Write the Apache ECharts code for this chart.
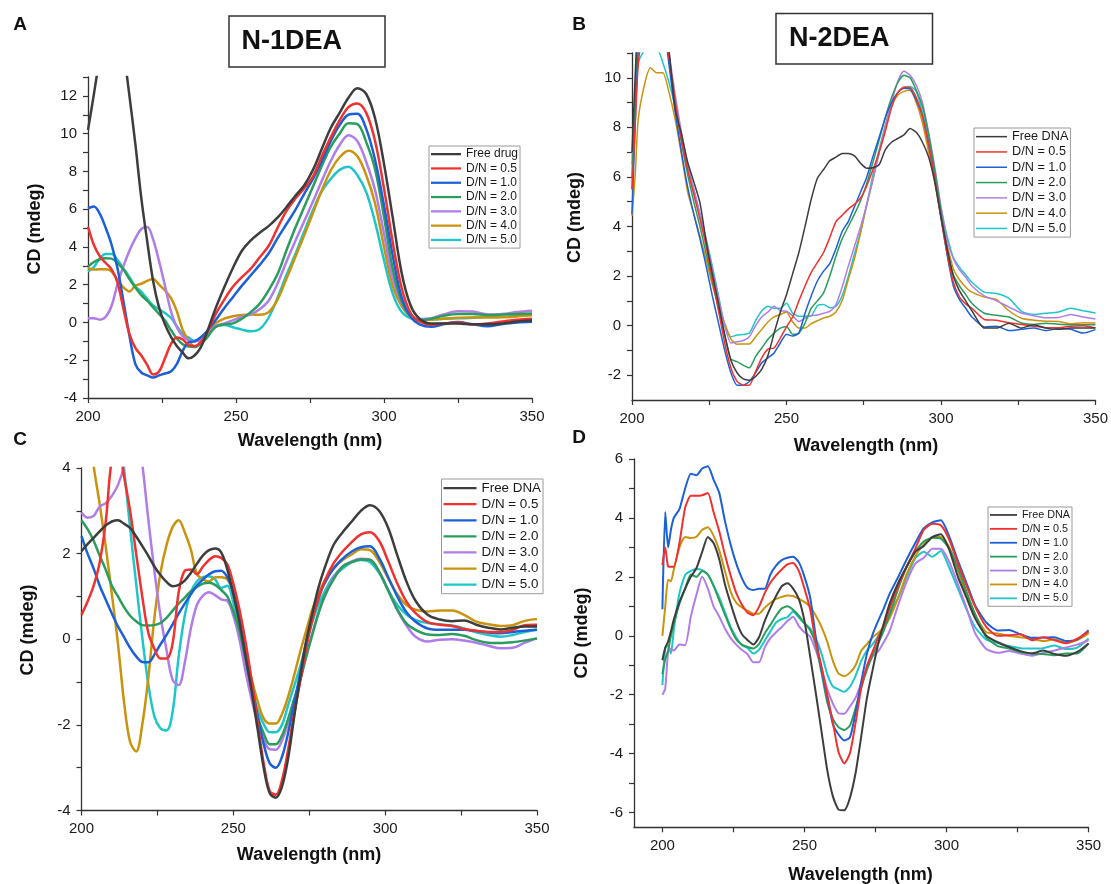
<!DOCTYPE html>
<html><head><meta charset="utf-8">
<script src="https://cdn.jsdelivr.net/npm/echarts@6/dist/echarts.min.js"></script>
<style>html,body{margin:0;padding:0;background:#fff}#c{width:1111px;height:884px}</style>
</head><body><div id="c"></div>
<script>
// ---------- names / colours ----------
const namesA = ['Free drug','D/N = 0.5','D/N = 1.0','D/N = 2.0','D/N = 3.0','D/N = 4.0','D/N = 5.0'];
const namesDNA = ['Free DNA','D/N = 0.5','D/N = 1.0','D/N = 2.0','D/N = 3.0','D/N = 4.0','D/N = 5.0'];
const colors = ['#3d3d3d','#f0312f','#1c60d8','#2a9d5c','#b07de8','#c9930d','#1fc6c9'];

// ---------- Panel A (N-1DEA, drug) ----------
const wlA = [200,202,204,206,208,210,212,214,216,218,220,222,224,226,228,230,232,234,236,238,240,
 243,246,249,252,255,258,261,264,267,270,273,276,279,282,285,288,291,294,297,300,303,306,309,312,
 316,320,325,330,335,340,345,350];
const aFree = [10.2,12.1,14.2,17,18,17,14.5,12.0,9.45,6.6,4.3,2.2,0.8,-0.1,-0.75,-1.25,-1.6,-1.9,-1.75,-1.35,-0.6,
 0.7,1.85,2.9,3.8,4.35,4.75,5.1,5.55,6.1,6.7,7.25,8.08,9.2,10.3,11.1,11.9,12.4,12.1,10.8,8.4,5.5,2.6,0.9,0.2,
 -0.05,-0.05,-0.05,-0.1,-0.1,-0.05,0.05,0.1];
const aDN05 = [5.08,4.1,3.5,3.15,2.8,2.1,0.7,-0.6,-1.35,-1.75,-2.25,-2.75,-2.6,-1.9,-1.15,-0.8,-0.9,-1.2,-1.25,-1.05,-0.6,
 0.4,1.2,1.9,2.4,2.85,3.45,4.05,5.0,5.9,6.55,7.1,7.73,8.8,9.8,10.7,11.4,11.6,11.1,9.6,7.1,4.2,1.8,0.5,0.05,
 -0.12,-0.05,0.0,-0.1,-0.05,0.05,0.15,0.2];
const aDN10 = [6.05,6.14,5.75,5.0,4.1,2.85,1.1,-0.7,-2.2,-2.65,-2.8,-2.92,-2.8,-2.7,-2.6,-2.2,-1.5,-1.05,-1.0,-0.8,-0.5,
 0.1,0.75,1.35,1.95,2.5,3.05,3.65,4.45,5.2,5.95,6.8,7.6,8.55,9.6,10.45,11.0,11.05,10.25,8.6,6.2,3.5,1.3,0.3,-0.1,
 -0.23,-0.1,0.02,-0.1,-0.2,-0.08,0.0,0.04];
const aDN20 = [2.96,3.2,3.35,3.4,3.38,3.15,2.8,2.3,1.85,1.45,1.15,0.8,0.45,0.1,-0.4,-0.85,-1.15,-1.28,-1.3,-1.15,-0.85,
 -0.25,-0.1,-0.05,0.2,0.55,1.0,1.7,2.55,3.8,5.0,6.1,7.2,8.3,9.3,10.0,10.55,10.5,9.55,8.1,5.6,2.8,1.1,0.32,0.12,
 0.2,0.35,0.45,0.45,0.4,0.42,0.45,0.48];
const aDN30 = [0.23,0.23,0.15,0.3,0.9,2.05,3.0,3.8,4.45,4.95,5.05,4.4,3.25,1.95,0.6,-0.25,-0.72,-0.95,-1.0,-0.95,-0.65,
 -0.2,-0.05,0.12,0.3,0.43,0.7,1.15,2.05,3.2,4.3,5.35,6.4,7.5,8.55,9.4,9.92,9.6,8.5,7.0,4.7,2.3,1.0,0.32,0.18,
 0.22,0.42,0.6,0.58,0.42,0.45,0.55,0.62];
const aDN40 = [2.88,2.8,2.82,2.82,2.7,2.25,1.85,1.64,1.95,2.05,2.2,2.3,2.0,1.7,1.3,0.6,-0.4,-0.95,-1.27,-1.12,-0.65,
 -0.05,0.2,0.33,0.4,0.42,0.41,0.55,1.2,2.3,3.45,4.6,5.8,7.0,8.05,8.75,9.1,8.8,7.8,6.3,4.0,1.9,0.85,0.3,0.14,
 0.15,0.2,0.25,0.26,0.26,0.28,0.32,0.39];
const aDN50 = [2.7,2.93,3.4,3.62,3.62,3.3,2.85,2.4,1.9,1.62,1.25,0.9,0.7,0.5,0.25,-0.2,-0.62,-0.8,-0.97,-0.9,-0.55,
 -0.2,-0.13,-0.25,-0.38,-0.47,-0.35,0.25,1.3,2.5,3.6,4.8,5.95,6.95,7.6,8.08,8.25,7.8,6.9,5.3,3.3,1.5,0.55,0.22,0.14,
 0.15,0.2,0.22,0.25,0.3,0.3,0.35,0.39];

// ---------- Panel B (N-2DEA, DNA) ----------
const wlB = [200,201,202,
 204,206,208,210,212,214,216,218,220,222,224,226,228,230,232,234,236,238,240,242,244,246,248,250,
 252,254,256,258,260,262,264,266,268,270,272,274,276,278,280,282,284,286,288,290,292,294,296,298,300,
 302,304,306,308,310,
 314,318,322,326,330,334,338,342,346,350];
const bFree = [7.0,10.0,12.5,
 14,14.5,14.5,13.5,11.1,8.7,7.75,6.6,5.8,4.95,3.4,2.1,0.9,-0.35,-1.4,-1.9,-2.15,-2.2,-2.05,-1.75,-1.2,-0.3,0.55,1.25,
 2.1,2.95,4.0,5.1,5.95,6.3,6.65,6.8,6.95,6.95,6.85,6.55,6.35,6.37,6.5,7.1,7.4,7.55,7.7,7.95,7.8,7.4,6.8,5.8,4.4,
 3.1,2.0,1.4,1.0,0.6,
 -0.1,-0.1,0.1,-0.1,0.04,-0.1,-0.15,-0.1,-0.1,-0.1];
const bDN05 = [5.5,8.0,10.5,
 12.5,13,13,12.3,10.8,9.0,7.5,6.3,5.3,4.3,3.2,1.9,0.6,-0.7,-1.7,-2.25,-2.4,-2.4,-1.85,-1.3,-0.95,-0.9,-0.5,-0.05,
 0.35,1.0,1.6,2.15,2.55,2.95,3.55,4.2,4.45,4.7,4.9,5.15,5.65,6.3,7.0,7.85,8.8,9.4,9.62,9.6,9.2,8.45,7.3,5.9,4.35,
 2.9,1.75,1.15,0.88,0.7,
 0.25,0.22,0.12,0.05,-0.02,-0.08,-0.09,-0.02,0.0,-0.09];
const bDN10 = [4.5,8.0,11.0,
 13,13.5,13.5,12.5,10.5,8.6,7.0,5.6,4.5,3.5,2.4,1.2,0.1,-1.0,-1.9,-2.4,-2.4,-2.25,-1.9,-1.5,-1.3,-1.1,-0.7,-0.35,
 -0.42,-0.3,0.5,1.2,1.8,2.2,2.5,3.1,3.8,4.2,4.8,5.4,6.0,6.84,7.6,8.4,9.0,9.4,9.58,9.55,9.1,8.45,7.3,5.9,4.35,
 2.85,1.6,1.05,0.7,0.35,
 -0.05,-0.02,-0.2,-0.15,-0.1,-0.2,-0.12,-0.15,-0.3,-0.16];
const bDN20 = [6.0,9.0,12.0,
 13.5,14,14,12.8,10.9,9.0,7.4,6.1,5.0,4.0,2.9,1.8,0.7,-0.4,-1.35,-1.45,-1.6,-1.7,-1.25,-0.9,-0.55,-0.3,-0.1,-0.03,
 -0.35,-0.3,0.1,0.7,1.0,1.32,2.0,2.8,3.5,4.0,4.5,5.05,5.75,6.6,7.5,8.4,9.2,9.8,10.1,10.0,9.5,8.85,7.7,6.25,4.6,
 3.1,2.05,1.6,1.25,0.9,
 0.5,0.42,0.35,0.11,0.05,0.1,0.06,0.04,0.04,0.04];
const bDN30 = [6.5,9.5,12.0,
 13.5,14,14,13,11,9.3,7.8,6.5,5.5,4.5,3.4,2.3,1.1,0.0,-0.7,-0.65,-0.6,-0.45,0.0,0.35,0.55,0.78,0.6,0.58,
 0.4,0.17,0.3,0.4,0.43,0.5,0.58,0.85,1.55,2.4,3.2,4.0,4.9,5.9,7.0,8.0,9.0,9.85,10.27,10.1,9.7,9.0,7.8,6.4,4.8,
 3.45,2.7,2.25,1.95,1.6,
 1.2,1.0,0.75,0.51,0.4,0.32,0.33,0.45,0.35,0.27];
const bDN40 = [4.43,6.0,8.3,
 9.7,10.4,10.2,10.2,9.4,8.3,6.9,5.4,4.5,3.6,2.65,1.65,0.8,0.1,-0.54,-0.75,-0.74,-0.74,-0.45,-0.15,0.15,0.35,0.45,0.55,
 0.15,-0.1,-0.1,0.08,0.2,0.31,0.38,0.55,1.0,1.86,2.7,3.75,4.9,5.9,7.0,8.05,8.9,9.3,9.45,9.5,9.0,8.18,7.0,5.75,4.4,
 3.25,2.3,1.85,1.55,1.35,
 1.15,1.05,0.6,0.3,0.22,0.18,0.17,0.08,0.12,0.11];
const bDN50 = [5.5,8.5,10.6,
 11.1,11.2,11.2,10.6,9.8,8.8,7.6,6.4,5.5,4.5,3.5,2.4,1.2,0.0,-0.45,-0.38,-0.36,-0.3,0.2,0.6,0.78,0.7,0.7,0.9,
 0.5,0.38,0.38,0.4,0.8,0.85,0.72,0.78,1.2,1.99,2.9,3.8,4.9,6.1,7.1,8.1,8.95,9.4,9.62,9.65,9.45,8.6,7.5,6.1,4.75,
 3.6,2.75,2.35,2.05,1.75,
 1.35,1.3,1.1,0.58,0.45,0.5,0.55,0.7,0.6,0.51];

// ---------- Panel C (DNA) ----------
const wlC = [200,202,204,206,208,210,212,214,216,218,220,222,224,226,228,230,232,234,236,238,240,
 242,244,246,248,250,252,254,256,258,260,262,264,266,268,270,272,274,276,278,280,
 283,286,289,292,295,298,301,304,307,310,
 314,318,322,326,330,334,338,342,346,350];
const cFree = [2.06,2.22,2.37,2.52,2.66,2.75,2.78,2.7,2.6,2.4,2.18,1.95,1.7,1.5,1.34,1.24,1.27,1.37,1.55,1.76,1.96,
 2.08,2.12,2.03,1.63,1.05,0.4,-0.4,-1.2,-2.1,-3.0,-3.6,-3.7,-3.45,-2.8,-1.83,-0.9,-0.05,0.6,1.2,1.65,
 2.2,2.5,2.75,3.0,3.13,3.0,2.6,1.96,1.35,0.9,
 0.57,0.46,0.42,0.44,0.34,0.27,0.23,0.27,0.3,0.3];
const cDN05 = [0.57,0.88,1.25,1.8,2.76,4.2,4.5,3.8,3.0,2.0,1.0,0.15,-0.22,-0.45,-0.45,-0.1,1.1,1.6,1.63,1.52,1.7,
 1.85,1.94,1.9,1.75,1.3,0.7,-0.05,-0.95,-1.95,-2.9,-3.55,-3.63,-3.3,-2.6,-1.75,-1.0,-0.2,0.45,0.95,1.35,
 1.77,2.05,2.27,2.45,2.5,2.3,1.82,1.3,0.88,0.61,
 0.4,0.34,0.31,0.24,0.2,0.17,0.17,0.22,0.33,0.34];
const cDN10 = [2.41,2.0,1.65,1.25,0.92,0.6,0.3,0.05,-0.2,-0.4,-0.53,-0.54,-0.36,-0.12,0.1,0.35,0.6,0.83,1.05,1.25,1.4,
 1.52,1.59,1.6,1.45,1.1,0.6,-0.2,-1.0,-1.8,-2.45,-2.9,-3.0,-2.75,-2.2,-1.5,-0.8,-0.05,0.5,0.95,1.3,
 1.65,1.88,2.05,2.15,2.17,1.9,1.45,1.0,0.63,0.41,
 0.25,0.22,0.22,0.22,0.19,0.16,0.14,0.17,0.2,0.22];
const cDN20 = [2.78,2.57,2.3,1.95,1.62,1.25,1.0,0.75,0.55,0.42,0.33,0.32,0.33,0.38,0.5,0.67,0.83,0.97,1.12,1.22,1.3,
 1.32,1.27,1.15,1.0,0.65,0.2,-0.45,-1.15,-1.8,-2.2,-2.45,-2.45,-2.25,-1.87,-1.4,-0.95,-0.4,0.1,0.6,1.0,
 1.4,1.7,1.8,1.86,1.85,1.58,1.14,0.7,0.37,0.22,
 0.11,0.1,0.12,0.08,-0.02,-0.08,-0.09,-0.07,-0.03,0.02];
const cDN30 = [2.96,2.84,2.88,3.1,3.18,3.35,3.6,4.05,5.0,5.0,4.1,2.8,1.6,0.55,-0.25,-0.95,-1.07,-0.55,0.25,0.8,1.02,
 1.1,1.03,0.93,0.9,0.55,0.0,-0.75,-1.4,-1.95,-2.35,-2.57,-2.58,-2.37,-1.95,-1.45,-0.95,-0.4,0.14,0.6,0.98,
 1.45,1.7,1.82,1.88,1.86,1.58,1.14,0.68,0.32,0.06,
 -0.05,-0.01,0.0,-0.03,-0.08,-0.15,-0.21,-0.2,-0.08,0.02];
const cDN40 = [6.5,5.2,4.05,3.15,2.15,1.05,-0.1,-1.46,-2.4,-2.62,-2.0,-0.9,0.5,1.55,2.2,2.62,2.78,2.5,2.1,1.52,1.4,
 1.35,1.45,1.45,1.4,1.1,0.5,-0.2,-0.92,-1.45,-1.85,-1.97,-1.97,-1.75,-1.35,-0.85,-0.3,0.2,0.69,1.05,1.35,
 1.65,1.85,1.98,2.1,2.08,1.82,1.42,1.05,0.8,0.69,
 0.65,0.67,0.67,0.57,0.41,0.35,0.31,0.33,0.43,0.47];
const cDN50 = [7.0,7.5,7.8,7.8,7.2,6.2,5.2,4.0,2.6,1.3,0.05,-1.05,-1.8,-2.08,-2.13,-1.7,-0.4,0.55,1.1,1.35,1.45,
 1.47,1.4,1.2,1.25,0.85,0.2,-0.6,-1.2,-1.65,-1.98,-2.17,-2.17,-2.0,-1.55,-1.1,-0.64,-0.1,0.4,0.8,1.1,
 1.47,1.65,1.8,1.85,1.8,1.55,1.15,0.8,0.58,0.45,
 0.38,0.35,0.32,0.25,0.16,0.1,0.06,0.1,0.17,0.22];

// ---------- Panel D (DNA) ----------
const wlD = [200,201,202,203,204,
 206,208,210,212,214,216,218,220,222,224,226,228,230,232,234,236,238,240,242,244,
 246,248,250,252,254,256,258,260,262,264,266,268,270,272,274,276,278,280,
 283,286,289,292,295,298,301,304,307,310,
 314,318,322,326,330,334,338,342,346,350];
const dFree = [-0.83,-0.4,-0.2,0.15,0.55,
 1.15,1.6,2.0,2.3,2.85,3.35,3.15,2.6,1.75,1.1,0.5,0.05,-0.15,-0.3,-0.05,0.5,0.95,1.35,1.68,1.78,
 1.6,1.25,0.5,-0.7,-1.95,-3.25,-4.55,-5.45,-5.9,-5.92,-5.5,-4.65,-3.4,-2.1,-1.15,-0.25,0.45,1.1,
 1.8,2.35,2.85,3.05,3.35,3.45,2.91,2.0,1.3,0.6,
 0.0,-0.22,-0.38,-0.52,-0.6,-0.5,-0.62,-0.68,-0.55,-0.26];
const dDN05 = [2.4,3.0,2.35,2.34,2.34,
 3.15,4.35,4.75,4.75,4.77,4.85,4.2,3.55,2.75,2.05,1.45,1.05,0.78,0.7,0.98,1.45,1.8,2.05,2.25,2.42,
 2.47,2.2,1.6,0.9,-0.25,-1.05,-2.0,-2.95,-3.95,-4.33,-3.99,-2.95,-1.75,-1.02,-0.53,-0.05,0.35,0.95,
 1.7,2.35,2.95,3.6,3.8,3.75,3.25,2.45,1.7,1.0,
 0.3,0.0,0.02,0.05,-0.15,-0.05,-0.15,-0.25,-0.1,0.14];
const dDN10 = [0.9,4.2,3.0,3.6,4.0,
 4.3,5.0,5.5,5.45,5.68,5.75,5.3,4.85,3.9,3.1,2.45,1.95,1.62,1.55,1.6,1.6,2.08,2.38,2.57,2.65,
 2.68,2.5,2.0,1.3,-0.05,-1.15,-2.05,-3.0,-3.35,-3.55,-3.45,-2.6,-1.55,-0.6,0.05,0.52,0.95,1.43,
 2.0,2.6,3.15,3.65,3.85,3.92,3.36,2.55,1.8,1.05,
 0.45,0.18,0.2,0.05,-0.07,-0.06,-0.05,-0.18,-0.12,0.19];
const dDN20 = [-1.3,-0.8,-0.5,0.0,0.4,
 1.1,1.6,2.08,2.0,2.2,2.08,1.7,1.2,0.72,0.25,-0.12,-0.3,-0.38,-0.43,-0.28,0.08,0.37,0.68,0.93,1.0,
 0.88,0.68,0.42,0.19,-0.3,-1.25,-2.25,-2.82,-3.1,-3.2,-3.05,-2.45,-1.75,-1.15,-0.65,-0.25,0.2,0.73,
 1.6,2.35,2.85,3.2,3.33,3.3,2.95,2.3,1.5,0.75,
 -0.05,-0.35,-0.43,-0.55,-0.6,-0.62,-0.66,-0.6,-0.6,-0.26];
const dDN30 = [-2.0,-1.79,-0.55,-0.45,-0.5,
 -0.3,-0.32,0.65,1.4,2.0,1.6,1.0,0.65,0.25,-0.07,-0.3,-0.48,-0.63,-0.9,-0.9,-0.4,-0.08,0.12,0.3,0.5,
 0.65,0.33,0.12,-0.03,-0.5,-1.1,-1.8,-2.3,-2.63,-2.65,-2.4,-2.1,-1.6,-1.1,-0.7,-0.52,-0.2,0.17,
 1.05,1.85,2.45,2.65,2.95,2.95,2.5,1.75,0.95,0.1,
 -0.45,-0.58,-0.52,-0.6,-0.68,-0.58,-0.5,-0.4,-0.3,-0.15];
const dDN40 = [0.0,1.0,1.9,1.85,2.25,
 3.0,3.35,3.32,3.36,3.6,3.68,3.4,2.9,2.2,1.5,1.12,0.96,0.85,0.75,0.75,0.95,1.12,1.25,1.32,1.37,
 1.35,1.25,1.15,0.98,0.68,0.3,-0.2,-0.85,-1.28,-1.37,-1.25,-1.0,-0.5,-0.28,-0.05,0.1,0.3,0.6,
 1.3,2.1,2.7,3.1,3.35,3.35,3.0,2.2,1.4,0.72,
 0.12,0.08,0.0,-0.05,-0.1,-0.18,-0.12,-0.25,-0.15,0.08];
const dDN50 = [-1.67,-0.43,-0.32,-0.6,0.2,
 1.45,2.06,2.2,2.27,2.23,2.08,1.7,1.3,0.8,0.3,-0.06,-0.32,-0.42,-0.6,-0.48,-0.17,0.15,0.45,0.57,0.63,
 0.82,0.62,0.42,0.25,-0.1,-0.6,-1.3,-1.72,-1.82,-1.9,-1.73,-1.35,-0.85,-0.5,-0.28,0.0,0.35,0.75,
 1.3,2.0,2.63,2.85,2.68,2.88,2.3,1.6,0.9,0.3,
 -0.13,-0.25,-0.35,-0.42,-0.43,-0.42,-0.33,-0.45,-0.4,-0.09];

// ---------- tick values ----------
const xLabels = [200,250,300,350];
const xTicks = [200,225,250,275,300,325,350];
const yLabelsA = [-4,-2,0,2,4,6,8,10,12];
const yLabelsB = [-2,0,2,4,6,8,10];
const yLabelsC = [-4,-2,0,2,4];
const yLabelsD = [-6,-4,-2,0,2,4,6];

// ---------- layout / style (not data) ----------
const FONT = "'Liberation Sans', Arial, Helvetica, sans-serif";
function range(a,b){const r=[];for(let v=a;v<=b;v++)r.push(v);return r;}
const panels = [
 {wl:wlA, ys:[aFree,aDN05,aDN10,aDN20,aDN30,aDN40,aDN50], names:namesA,
  grid:{left:88,top:77,width:444,height:321}, xr:[200,350], yr:[-4,13], yl:yLabelsA, yt:range(-4,13),
  lw:2.5, smooth:0.35, leg:{left:429,top:146,fs:12,row:14.3,iw:30}},
 {wl:wlB, ys:[bFree,bDN05,bDN10,bDN20,bDN30,bDN40,bDN50], names:namesDNA,
  grid:{left:632,top:53,width:466,height:347}, xr:[200,350], yr:[-3,11], yl:yLabelsB, yt:range(-2,11),
  lw:1.5, smooth:0.2, leg:{left:974,top:128,fs:12.7,row:15.3,iw:31}},
 {wl:wlC, ys:[cFree,cDN05,cDN10,cDN20,cDN30,cDN40,cDN50], names:namesDNA,
  grid:{left:81.5,top:468,width:455.5,height:342.5}, xr:[200,350], yr:[-4,4], yl:yLabelsC, yt:range(-4,4),
  lw:2.5, smooth:0.35, leg:{left:441.5,top:479,fs:13.4,row:16.1,iw:33}},
 {wl:wlD, ys:[dFree,dDN05,dDN10,dDN20,dDN30,dDN40,dDN50], names:namesDNA,
  grid:{left:634,top:459,width:454.6,height:368.3}, xr:[190,350], yr:[-6.5,6], yl:yLabelsD, yt:range(-6,6),
  lw:2, smooth:0.2, leg:{left:988,top:507,fs:10.8,row:13.9,iw:27}}
];

const grids=[], xAxes=[], yAxes=[], series=[], legends=[];
panels.forEach((p,gi)=>{
  grids.push(Object.assign({containLabel:false}, p.grid));
  const axLine = {show:true, onZero:false, lineStyle:{color:'#333', width:1.3}};
  xAxes.push({type:'value', gridIndex:gi, min:p.xr[0], max:p.xr[1],
    axisLine:axLine, axisTick:{show:true, inside:false, length:5, customValues:xTicks, lineStyle:{color:'#333',width:1.2}},
    axisLabel:{customValues:xLabels, fontSize:15, color:'#1a1a1a', fontFamily:FONT, margin:11},
    splitLine:{show:false}});
  yAxes.push({type:'value', gridIndex:gi, min:p.yr[0], max:p.yr[1],
    axisLine:axLine, axisTick:{show:true, inside:false, length:5, customValues:p.yt, lineStyle:{color:'#333',width:1.2}},
    axisLabel:{customValues:p.yl, fontSize:15, color:'#1a1a1a', fontFamily:FONT, margin:11},
    splitLine:{show:false}});
  p.ys.forEach((ys,si)=>{
    series.push({type:'line', name:p.names[si], xAxisIndex:gi, yAxisIndex:gi,
      data:p.wl.map((x,i)=>[x, ys[i]]), symbol:'none', showSymbol:false, smooth:p.smooth, clip:true,
      lineStyle:{color:colors[si], width:p.lw}, itemStyle:{color:colors[si]}, z: 10-si});
  });
  legends.push({orient:'vertical', left:p.leg.left, top:p.leg.top, selectedMode:false,
    data:p.names, icon:'rect', itemWidth:p.leg.iw, itemHeight:Math.max(1.5,p.lw*0.9), itemGap:0,
    padding:[1,2,1,2], borderColor:'#9a9a9a', borderWidth:1, backgroundColor:'#fff',
    textStyle:{fontSize:p.leg.fs, lineHeight:p.leg.row, color:'#1a1a1a', fontFamily:FONT}});
});

const titleFont = "bold 27px " + FONT;
const axFont = "bold 18px " + FONT;
const letFont = "bold 19px " + FONT;
function txt(t,x,y,font,rot){return {type:'text', x, y, rotation:rot||0, z:100,
  style:{text:t, font, fill:'#111', align:'center', verticalAlign:'middle', textAlign:'center', textVerticalAlign:'middle'}};}
const graphics = [
  {type:'rect', shape:{x:229, y:16, width:156, height:51}, style:{fill:'#fff', stroke:'#333', lineWidth:1.5}, z:90},
  {type:'text', x:241.5, y:42, z:100, style:{text:'N-1DEA', font:titleFont, fill:'#111', align:'left', verticalAlign:'middle'}},
  {type:'rect', shape:{x:776, y:13.5, width:156.5, height:50.5}, style:{fill:'#fff', stroke:'#333', lineWidth:1.5}, z:90},
  {type:'text', x:789, y:39, z:100, style:{text:'N-2DEA', font:titleFont, fill:'#111', align:'left', verticalAlign:'middle'}},
  txt('A',20,25,letFont), txt('B',579,25,letFont), txt('C',20,440,letFont), txt('D',579,438,letFont),
  txt('Wavelength (nm)',310,441,axFont), txt('Wavelength (nm)',866,446,axFont),
  txt('Wavelength (nm)',309,855.5,axFont), txt('Wavelength (nm)',860.5,875.5,axFont),
  txt('CD (mdeg)',35.5,229,axFont,Math.PI/2), txt('CD (mdeg)',575.5,217.5,axFont,Math.PI/2),
  txt('CD (mdeg)',28.3,630,axFont,Math.PI/2), txt('CD (mdeg)',581.6,633,axFont,Math.PI/2)
];

const chart = echarts.init(document.getElementById('c'), null, {renderer:'canvas'});
chart.setOption({animation:false, backgroundColor:'#fff', grid:grids, xAxis:xAxes, yAxis:yAxes,
  series, legend:legends, graphic:graphics});
</script></body></html>
